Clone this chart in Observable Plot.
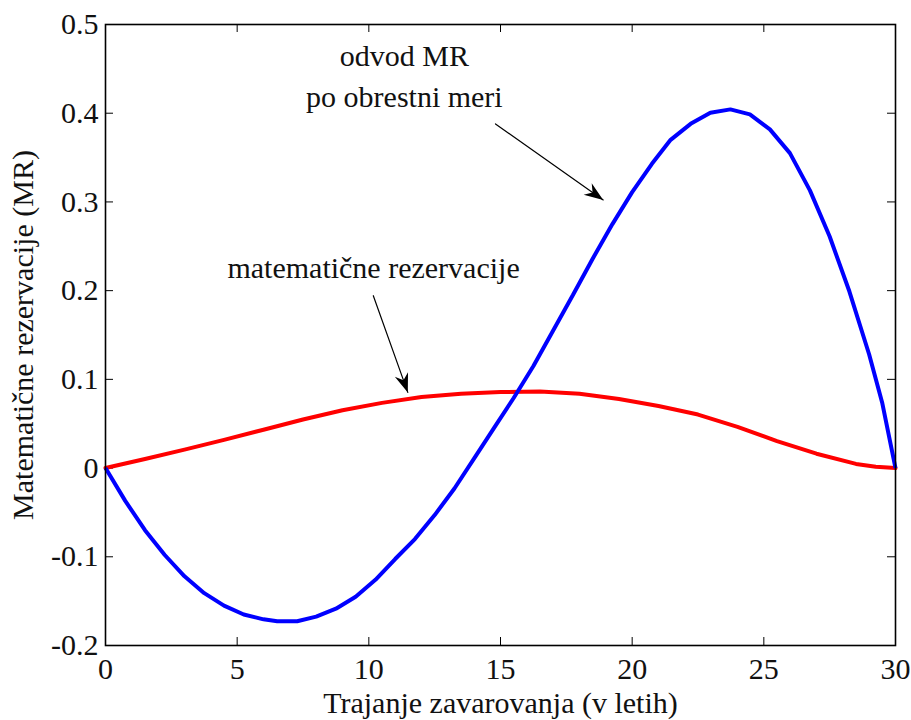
<!DOCTYPE html>
<html>
<head>
<meta charset="utf-8">
<script src="https://cdn.jsdelivr.net/npm/d3@7"></script>
<script src="https://cdn.jsdelivr.net/npm/@observablehq/plot@0.6"></script>
<style>
  body { margin: 0; background: #ffffff; }
  #chart svg { display: block; }
</style>
</head>
<body>
<div id="chart"></div>
<script>
// Derivative of the reserves with respect to the interest rate (blue)
const blueYears = [0, 0.75, 1.5, 2.25, 3, 3.75, 4.5, 5.25, 6, 6.52, 7.28, 8, 8.75, 9.5, 10.25, 11, 11.75, 12.5, 13.25, 14, 14.75, 15.5, 16.25, 17, 17.75, 18.5, 19.25, 20, 20.75, 21.46, 22.22, 22.97, 23.73, 24.47, 25.23, 25.99, 26.75, 27.5, 28.25, 29, 29.5, 30];
const blueValues = [0, -0.037, -0.070, -0.098, -0.122, -0.141, -0.155, -0.165, -0.1705, -0.1727, -0.1727, -0.1675, -0.1585, -0.145, -0.126, -0.1025, -0.080, -0.053, -0.023, 0.011, 0.045, 0.079, 0.115, 0.155, 0.195, 0.236, 0.275, 0.311, 0.343, 0.370, 0.388, 0.4006, 0.4043, 0.3987, 0.3818, 0.355, 0.313, 0.261, 0.199, 0.128, 0.073, 0];

// Mathematical reserves (red)
const redYears = [0, 1.5, 3, 4.5, 6, 7.5, 9, 10.5, 12, 13.5, 15, 16.5, 18, 19.5, 21, 22.5, 24, 25.5, 27, 28.5, 29.25, 30];
const redValues = [0, 0.0103, 0.0208, 0.0318, 0.0432, 0.0548, 0.0652, 0.0735, 0.080, 0.0838, 0.0857, 0.0862, 0.0838, 0.0778, 0.0700, 0.0603, 0.0465, 0.0304, 0.0162, 0.0047, 0.0015, 0];

const xTicks = [0, 5, 10, 15, 20, 25, 30];
const yTicks = [-0.2, -0.1, 0, 0.1, 0.2, 0.3, 0.4, 0.5];

const xLabel = "Trajanje zavarovanja (v letih)";
const yLabel = "Matematične rezervacije (MR)";

// Annotation texts and arrows, in data units
const noteTexts = ["odvod MR", "po obrestni meri", "matematične rezervacije"];
const noteX = [11.35, 11.35, 10.18];
const noteY = [0.4644, 0.418, 0.2254];
const arrowX1 = [14.81, 10.17];
const arrowY1 = [0.3879, 0.1943];
const arrowX2 = [18.90, 11.48];
const arrowY2 = [0.3022, 0.0853];

const blue = blueYears.map((x, i) => ({x, y: blueValues[i]}));
const red = redYears.map((x, i) => ({x, y: redValues[i]}));
const notes = noteTexts.map((t, i) => ({t, x: noteX[i], y: noteY[i]}));
const arrows = arrowX1.map((x1, i) => ({x1, y1: arrowY1[i], x2: arrowX2[i], y2: arrowY2[i]}));

const FONT = "Liberation Serif";
const FS = 30;
const W = 911, H = 720;
const mL = 105, mR = 16, mT = 24, mB = 75;
const plotW = W - mL - mR, plotH = H - mT - mB;
const TICK = 8;

// Filled, swept-back arrowhead drawn at the end of each arrow
function filledHead(index, scales, values, dimensions, context, next) {
  const g = next(index, scales, values, dimensions, context);
  const {x1: X1, y1: Y1, x2: X2, y2: Y2} = values;
  const L = 19, Wd = 7, N = 13;
  for (const i of index) {
    const a = Math.atan2(Y2[i] - Y1[i], X2[i] - X1[i]);
    const c = Math.cos(a), s = Math.sin(a);
    const pt = (d, w) => [X2[i] - d * c - w * s, Y2[i] - d * s + w * c];
    const p = [pt(0, 0), pt(L, Wd), pt(N, 0), pt(L, -Wd)];
    const path = document.createElementNS("http://www.w3.org/2000/svg", "path");
    path.setAttribute("d", "M" + p.map(q => q.join(",")).join("L") + "Z");
    path.setAttribute("fill", "black");
    path.setAttribute("stroke", "none");
    g.appendChild(path);
  }
  return g;
}

const chart = Plot.plot({
  width: W,
  height: H,
  marginLeft: mL,
  marginRight: mR,
  marginTop: mT,
  marginBottom: mB,
  x: {domain: [0, 30]},
  y: {domain: [-0.2, 0.5]},
  marks: [
    // inward ticks on all four sides
    Plot.tickX(xTicks, {x: d => d, insetTop: plotH - TICK, stroke: "black", strokeWidth: 1}),
    Plot.tickX(xTicks, {x: d => d, insetBottom: plotH - TICK, stroke: "black", strokeWidth: 1}),
    Plot.tickY(yTicks, {y: d => d, insetRight: plotW - TICK, stroke: "black", strokeWidth: 1}),
    Plot.tickY(yTicks, {y: d => d, insetLeft: plotW - TICK, stroke: "black", strokeWidth: 1}),
    Plot.axisX({ticks: xTicks, tickSize: 0, tickPadding: 12, label: null, fontSize: FS, fontFamily: FONT, fill: "#111", tickFormat: d => String(d)}),
    Plot.axisY({ticks: yTicks, tickSize: 0, tickPadding: 7, label: null, fontSize: FS, fontFamily: FONT, fill: "#111",
      tickFormat: d => (d === 0 ? "0" : d.toFixed(1))}),
    Plot.lineY(red, {x: "x", y: "y", stroke: "#ff0000", strokeWidth: 4, strokeLinejoin: "round"}),
    Plot.lineY(blue, {x: "x", y: "y", stroke: "#0000ff", strokeWidth: 4, strokeLinejoin: "miter", strokeLinecap: "butt"}),
    Plot.frame({stroke: "black", strokeWidth: 1.6}),
    Plot.text(notes, {x: "x", y: "y", text: "t", fontSize: FS, fontFamily: FONT, fill: "#111"}),
    Plot.arrow(arrows, {x1: "x1", y1: "y1", x2: "x2", y2: "y2", stroke: "black", strokeWidth: 1.2, headLength: 0, render: filledHead}),
    Plot.text([xLabel], {frameAnchor: "bottom", dy: 67, lineAnchor: "bottom", textAnchor: "middle", fontSize: FS, fontFamily: FONT, fill: "#111"}),
    Plot.text([yLabel], {frameAnchor: "left", dx: -82, rotate: -90, textAnchor: "middle", fontSize: FS, fontFamily: FONT, fill: "#111"})
  ]
});

document.getElementById("chart").appendChild(chart);
</script>
</body>
</html>
